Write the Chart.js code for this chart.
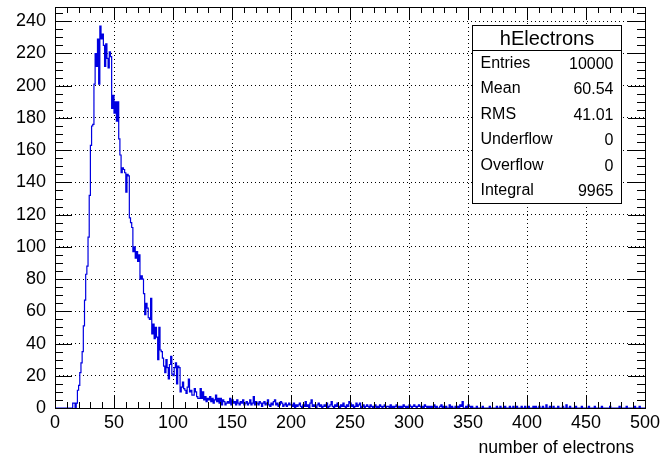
<!DOCTYPE html>
<html>
<head>
<meta charset="utf-8">
<script src="https://cdn.jsdelivr.net/npm/chart.js@4.4.1/dist/chart.umd.min.js"></script>
<style>
html,body{margin:0;padding:0;background:#fff;}
</style>
</head>
<body>
<canvas id="c" width="665" height="461"></canvas>
<script>
// histogram range
const xMin = 0, xMax = 500;
const yMax = 248.85;

// bin contents, one value per bin (bin width 1)
const counts0 = [ // bins 0-99
  0,0,0,0,0,0,0,0,0,0, 0,0,0,0,0,3,3,0,3,11,
  14,22,28,35,51,67,83,88,106,132, 163,175,176,201,220,212,229,201,237,229,
  232,225,212,226,217,211,221,218,186,194, 183,190,178,190,167,157,146,149,148,146,
  134,145,144,118,115,112,97,100,93,97, 91,95,80,82,80,71,58,65,62,56,
  55,68,46,52,43,50,44,30,50,36, 35,31,26,22,30,25,18,27,32,21
];
const counts1 = [ // bins 100-199
  20,25,28,15,26,25,10,13,16,12, 11,9,13,18,10,11,8,8,12,10,
  7,6,6,12,6,10,5,7,4,6, 5,7,4,6,3,5,8,4,6,3,
  6,2,5,4,2,3,4,3,6,2, 5,3,4,2,5,3,2,4,3,5,
  2,3,4,2,3,5,2,3,7,2, 4,3,2,4,3,1,3,4,2,3,
  5,2,1,3,2,4,5,2,3,1, 2,4,3,1,2,3,1,2,3,2
];
const counts2 = [ // bins 200-299
  2,1,3,0,2,1,2,3,1,0, 2,1,4,1,2,0,3,5,1,2,
  1,0,2,3,1,2,0,1,2,1, 3,0,1,2,4,1,0,2,1,3,
  1,0,2,1,3,1,0,2,1,4, 3,1,2,0,1,3,1,2,3,0,
  1,2,0,1,2,1,0,2,1,0, 1,2,0,1,0,2,1,0,1,2,
  0,1,1,0,2,0,1,0,1,2, 0,1,0,1,0,2,1,0,1,0
];
const counts3 = [ // bins 300-399
  2,1,0,1,2,1,0,1,2,1, 0,1,0,2,1,0,1,0,1,0,
  1,2,0,1,0,0,1,2,0,1, 0,1,0,0,2,0,1,0,0,1,
  0,1,0,2,1,4,0,0,1,0, 2,1,0,1,0,0,0,1,0,0,
  0,0,1,0,0,0,0,0,1,0, 0,0,0,0,1,0,0,1,0,0,
  0,1,0,0,0,1,0,0,1,0, 0,1,0,0,0,1,0,0,1,0
];
const counts4 = [ // bins 400-499
  0,1,0,0,0,1,0,1,0,0, 1,0,0,1,0,0,2,0,0,1,
  0,0,1,0,0,0,1,0,0,0, 1,0,0,2,0,0,1,0,0,0,
  0,1,0,0,0,0,1,0,0,0, 0,0,1,0,0,0,0,1,0,0,
  0,0,0,1,0,0,0,0,0,0, 1,0,0,0,0,0,0,0,1,0,
  0,0,0,0,1,0,0,0,0,0, 0,1,0,0,0,1,0,0,0,0
];
const counts = counts0.concat(counts1, counts2, counts3, counts4);
const binWidth = (xMax - xMin) / counts.length;

// axis ticks
const xMajor = [0, 50, 100, 150, 200, 250, 300, 350, 400, 450, 500];
const yMajor = [0, 20, 40, 60, 80, 100, 120, 140, 160, 180, 200, 220, 240];
const xMinorStep = 10;
const yMinorStep = 5;

// stats box
const histName = 'hElectrons';
const statNames = ['Entries', 'Mean', 'RMS', 'Underflow', 'Overflow', 'Integral'];
const statValues = ['10000', '60.54', '41.01', '0', '0', '9965'];
const xTitle = 'number of electrons';

const points = counts.map((v, i) => ({x: xMin + i * binWidth, y: v}));
points.push({x: xMax, y: counts[counts.length - 1]});

const FONT = '"Liberation Sans", Arial, Helvetica, sans-serif';

const rootFrame = {
  id: 'rootFrame',
  afterDraw(chart) {
    const {ctx, chartArea: a, scales: {x, y}} = chart;
    ctx.save();
    ctx.strokeStyle = '#000';
    ctx.lineWidth = 1;
    ctx.beginPath();
    for (let v = xMin; v <= xMax; v += xMinorStep) {
      const px = Math.round(x.getPixelForValue(v)) + 0.5;
      const len = v % 50 === 0 ? 12 : 6;
      ctx.moveTo(px, a.bottom); ctx.lineTo(px, a.bottom - len);
      ctx.moveTo(px, a.top); ctx.lineTo(px, a.top + len);
    }
    for (let v = 0; v <= yMax; v += yMinorStep) {
      const py = Math.round(y.getPixelForValue(v)) + 0.5;
      const len = v % 20 === 0 ? 17 : 8;
      ctx.moveTo(a.left, py); ctx.lineTo(a.left + len, py);
      ctx.moveTo(a.right, py); ctx.lineTo(a.right - len, py);
    }
    ctx.stroke();
    ctx.strokeRect(Math.round(a.left) + 0.5, Math.round(a.top) + 0.5,
      Math.round(a.right - a.left), Math.round(a.bottom - a.top));

    // stats box
    const bx = 472.5, by = 25.5, bw = 149, bh = 178, hh = 25;
    ctx.fillStyle = '#fff';
    ctx.fillRect(bx, by, bw, bh);
    ctx.strokeRect(bx, by, bw, bh);
    ctx.beginPath();
    ctx.moveTo(bx, by + hh); ctx.lineTo(bx + bw, by + hh);
    ctx.stroke();
    ctx.fillStyle = '#000';
    ctx.textBaseline = 'middle';
    ctx.textAlign = 'center';
    ctx.font = '20px ' + FONT;
    ctx.fillText(histName, bx + bw / 2, by + hh / 2 + 1);
    ctx.font = '16px ' + FONT;
    const rowH = (bh - hh) / statNames.length;
    statNames.forEach((n, i) => {
      const cy = by + hh + rowH * (i + 0.5);
      ctx.textAlign = 'left';
      ctx.fillText(n, bx + 8, cy);
      ctx.textAlign = 'right';
      ctx.fillText(statValues[i], bx + bw - 8, cy + 1);
    });

    // x axis title
    ctx.font = '17.6px ' + FONT;
    ctx.textAlign = 'right';
    ctx.fillText(xTitle, 634, 448);
    ctx.restore();
  }
};

new Chart(document.getElementById('c'), {
  type: 'line',
  data: {
    datasets: [{
      data: points,
      stepped: 'before',
      borderColor: 'rgb(0,0,225)',
      borderWidth: 1.2,
      pointRadius: 0,
      fill: false,
      tension: 0
    }]
  },
  options: {
    responsive: false,
    animation: false,
    layout: {padding: {top: 7, right: 20, left: 0, bottom: 0}},
    plugins: {legend: {display: false}, tooltip: {enabled: false}},
    scales: {
      x: {
        type: 'linear', min: xMin, max: xMax,
        afterBuildTicks(s) { s.ticks = xMajor.map(v => ({value: v})); },
        afterFit(s) { s.height = 53; s.paddingLeft = 0; s.paddingRight = 0; },
        ticks: {autoSkip: false, maxRotation: 0, padding: 4, color: '#000', font: {family: FONT, size: 18}},
        grid: {color: '#000', lineWidth: 1, drawTicks: false},
        border: {display: false, dash: [1, 3]}
      },
      y: {
        type: 'linear', min: 0, max: yMax,
        afterBuildTicks(s) { s.ticks = yMajor.map(v => ({value: v})); },
        afterFit(s) { s.width = 55; s.paddingTop = 0; s.paddingBottom = 0; },
        ticks: {autoSkip: false, padding: 9, color: '#000', font: {family: FONT, size: 18}},
        grid: {color: '#000', lineWidth: 1, drawTicks: false},
        border: {display: false, dash: [1, 3]}
      }
    }
  },
  plugins: [rootFrame]
});
</script>
</body>
</html>
